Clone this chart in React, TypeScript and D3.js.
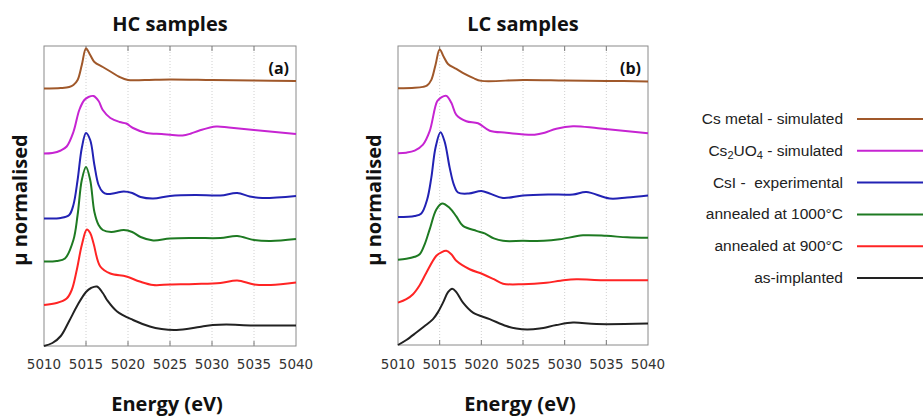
import React from "react";
import * as d3 from "d3";

// ---------- data (energy eV, stacked normalised μ) ----------
const X_TICKS = [5010, 5015, 5020, 5025, 5030, 5035, 5040];
const SERIES_NAMES = ["Cs metal - simulated", "Cs2UO4 - simulated", "CsI -  experimental", "annealed at 1000°C", "annealed at 900°C", "as-implanted"];
const SERIES_COLORS = ["#a0582a", "#c624d2", "#2222b4", "#1e7a22", "#ff2424", "#222222"];

const hcCsMetal: [number, number][] = [[5010,5.15],[5012,5.16],[5013,5.18],[5013.5,5.22],[5014,5.32],[5014.5,5.62],[5015,5.95],[5015.5,5.82],[5016,5.68],[5017,5.58],[5018,5.48],[5019,5.38],[5020,5.32],[5022,5.32],[5025,5.33],[5030,5.32],[5035,5.31],[5040,5.30]];
const hcCs2UO4: [number, number][] = [[5010,3.85],[5011,3.86],[5012,3.91],[5012.7,3.99],[5013.5,4.28],[5014.2,4.72],[5014.8,4.92],[5015.3,4.98],[5015.9,5.00],[5016.5,4.90],[5017,4.72],[5017.9,4.56],[5019,4.48],[5019.8,4.45],[5020.6,4.36],[5022.2,4.26],[5024,4.24],[5025.3,4.22],[5026.5,4.21],[5027.5,4.25],[5028.5,4.31],[5030.5,4.39],[5032,4.37],[5035,4.32],[5040,4.24]];
const hcCsI: [number, number][] = [[5010,2.55],[5012,2.56],[5013,2.62],[5013.5,2.82],[5014,3.32],[5014.5,3.96],[5015,4.26],[5015.5,4.12],[5016,3.62],[5016.5,3.22],[5017,3.08],[5017.5,3.04],[5018.5,3.06],[5019.5,3.09],[5020.5,3.06],[5021.5,2.98],[5023,2.95],[5025,3.00],[5028,3.02],[5031,3.01],[5033,3.06],[5034.5,2.99],[5036,2.96],[5040,3.00]];
const hcAnn1000: [number, number][] = [[5010,1.69],[5011.5,1.70],[5012.5,1.75],[5013.5,2.12],[5014,2.62],[5014.5,3.32],[5015,3.58],[5015.5,3.32],[5016,2.68],[5016.5,2.42],[5017,2.32],[5018,2.28],[5019.5,2.32],[5020.5,2.28],[5021.5,2.18],[5023,2.11],[5025,2.15],[5028,2.16],[5031,2.16],[5033,2.20],[5035,2.12],[5037,2.10],[5040,2.14]];
const hcAnn900: [number, number][] = [[5010,0.82],[5011.5,0.86],[5012.7,0.95],[5013.3,1.12],[5013.9,1.52],[5014.5,2.02],[5015.1,2.33],[5015.5,2.26],[5015.9,2.05],[5016.7,1.59],[5017.9,1.45],[5019.8,1.39],[5021.4,1.29],[5023,1.22],[5025,1.23],[5028,1.24],[5031,1.26],[5033,1.31],[5035,1.23],[5037,1.22],[5040,1.27]];
const hcImplanted: [number, number][] = [[5010,0.00],[5011,0.06],[5012,0.20],[5013,0.50],[5014,0.82],[5015,1.08],[5015.6,1.16],[5016.3,1.19],[5017,1.06],[5017.5,0.92],[5018.7,0.69],[5020.6,0.52],[5022.6,0.39],[5024,0.34],[5025.5,0.32],[5027,0.34],[5028.5,0.38],[5030.1,0.42],[5031.7,0.43],[5034.9,0.41],[5040,0.41]];

const lcCsMetal: [number, number][] = [[5010,5.15],[5012,5.16],[5013,5.18],[5013.5,5.21],[5014,5.32],[5014.5,5.62],[5015,5.93],[5015.5,5.78],[5016,5.64],[5017,5.54],[5018,5.44],[5019,5.36],[5020,5.30],[5025,5.32],[5030,5.31],[5035,5.30],[5040,5.29]];
const lcCs2UO4: [number, number][] = [[5010,3.85],[5011,3.86],[5012,3.90],[5013,4.02],[5013.8,4.29],[5014.7,4.89],[5015.2,4.97],[5015.8,5.00],[5016.4,4.86],[5017,4.62],[5018.2,4.49],[5019.6,4.45],[5021,4.30],[5023,4.26],[5024.8,4.23],[5026.4,4.22],[5027.6,4.26],[5029,4.34],[5031,4.39],[5034,4.35],[5040,4.25]];
const lcCsI: [number, number][] = [[5010,2.57],[5012,2.59],[5012.8,2.64],[5013.5,2.92],[5014,3.36],[5014.5,3.96],[5015.1,4.27],[5015.6,4.08],[5016.2,3.56],[5016.7,3.22],[5017.2,3.06],[5018.5,3.04],[5020,3.09],[5021,3.04],[5022.6,2.95],[5025,3.00],[5028,3.02],[5031,3.02],[5032.6,3.07],[5035.4,2.94],[5037.5,2.96],[5040,3.00]];
const lcAnn1000: [number, number][] = [[5010,1.71],[5011,1.73],[5012,1.77],[5012.6,1.82],[5013.2,2.02],[5013.8,2.32],[5014.6,2.72],[5015.3,2.84],[5016.2,2.75],[5017,2.58],[5017.8,2.39],[5019.4,2.29],[5020.4,2.24],[5021.5,2.14],[5022.6,2.09],[5025,2.09],[5027.5,2.09],[5029.4,2.12],[5032.2,2.20],[5035,2.19],[5037.5,2.16],[5040,2.15]];
const lcAnn900: [number, number][] = [[5010,0.85],[5011,0.92],[5011.8,1.02],[5012.6,1.20],[5013.4,1.45],[5014.6,1.79],[5015.2,1.86],[5015.8,1.89],[5016.4,1.82],[5017,1.69],[5018.6,1.52],[5020.2,1.42],[5021.5,1.32],[5022.6,1.23],[5025,1.22],[5027.8,1.25],[5029.5,1.29],[5031.4,1.32],[5034.6,1.30],[5040,1.30]];
const lcImplanted: [number, number][] = [[5010,0.00],[5011,0.10],[5012.2,0.25],[5013.2,0.38],[5014.2,0.52],[5014.8,0.66],[5015.4,0.85],[5016,1.06],[5016.5,1.13],[5017,1.06],[5017.8,0.85],[5019,0.65],[5021,0.52],[5023,0.38],[5024.2,0.33],[5025.5,0.31],[5027,0.33],[5029,0.40],[5031,0.45],[5033.8,0.42],[5040,0.43]];

const HC_SERIES = [hcCsMetal, hcCs2UO4, hcCsI, hcAnn1000, hcAnn900, hcImplanted];
const LC_SERIES = [lcCsMetal, lcCs2UO4, lcCsI, lcAnn1000, lcAnn900, lcImplanted];

const TITLE_FONT = "'Open Sans', Lato, sans-serif";
const TICK_FONT = "'DejaVu Sans', Verdana, sans-serif";
const LEGEND_FONT = "'Liberation Sans', Arial, sans-serif";

type PanelProps = { left: number; right: number; top: number; bottom: number; title: string; tag: string; series: [number, number][][] };

function Panel({ left, right, top, bottom, title, tag, series }: PanelProps) {
  const x = d3.scaleLinear().domain([5010, 5040]).range([left, right]);
  const y = d3.scaleLinear().domain([0, 6]).range([bottom, top]);
  const line = d3.line<[number, number]>().x(d => x(d[0])).y(d => y(d[1])).curve(d3.curveCatmullRom.alpha(0.5));
  const cx = (left + right) / 2;
  return (
    <g>
      <text x={cx} y={31} textAnchor="middle" fontFamily={TITLE_FONT} fontWeight="bold" fontSize={20} fill="#111">{title}</text>
      {X_TICKS.slice(1, -1).map(t => (
        <line key={"g" + t} x1={x(t)} x2={x(t)} y1={top} y2={bottom} stroke="#d0d0d0" strokeWidth={1} strokeDasharray="1,2" />
      ))}
      {X_TICKS.slice(1, -1).map(t => (
        <g key={"t" + t}>
          <line x1={x(t)} x2={x(t)} y1={top} y2={top + 5} stroke="#777" strokeWidth={1} />
          <line x1={x(t)} x2={x(t)} y1={bottom} y2={bottom - 5} stroke="#777" strokeWidth={1} />
        </g>
      ))}
      <rect x={left} y={top} width={right - left} height={bottom - top} fill="none" stroke="#8a8a8a" strokeWidth={1} />
      {X_TICKS.map(t => (
        <text key={"l" + t} x={x(t)} y={369} textAnchor="middle" fontFamily={TICK_FONT} fontSize={13.5} fill="#333">{t}</text>
      ))}
      {series.map((s, i) => (
        <path key={i} d={line(s) || ""} fill="none" stroke={SERIES_COLORS[i]} strokeWidth={2} />
      ))}
      <text x={right - 7} y={74} textAnchor="end" fontFamily={TITLE_FONT} fontWeight="bold" fontSize={16} fill="#111">{tag}</text>
      <text x={cx - 3} y={411} textAnchor="middle" fontFamily={TITLE_FONT} fontWeight="bold" fontSize={20} fill="#111">Energy (eV)</text>
      <text transform={`translate(${left - 17},200) rotate(-90)`} textAnchor="middle" fontFamily={TITLE_FONT} fontWeight="bold" fontSize={20} fill="#111">μ normalised</text>
    </g>
  );
}

function LegendLabel({ i }: { i: number }) {
  if (i === 1) {
    return (
      <>
        <tspan>Cs</tspan>
        <tspan fontSize={11} dy={3}>2</tspan>
        <tspan dy={-3}>UO</tspan>
        <tspan fontSize={11} dy={3}>4</tspan>
        <tspan dy={-3}> - simulated</tspan>
      </>
    );
  }
  return <>{SERIES_NAMES[i]}</>;
}

export default function App() {
  const legendY = d3.scaleLinear().domain([0, 5]).range([119, 278]);
  return (
    <svg width={923} height={418} style={{ display: "block", position: "absolute", left: 0, top: 0, background: "#fff" }}>
      <Panel left={44} right={296} top={46} bottom={346} title="HC samples" tag="(a)" series={HC_SERIES} />
      <Panel left={398} right={648} top={46} bottom={345} title="LC samples" tag="(b)" series={LC_SERIES} />
      {SERIES_NAMES.map((n, i) => (
        <g key={n}>
          <text x={843} y={legendY(i) + 5} textAnchor="end" fontFamily={LEGEND_FONT} fontSize={15.5} fill="#222" style={{ whiteSpace: "pre" }}>
            <LegendLabel i={i} />
          </text>
          <line x1={857} x2={925} y1={legendY(i)} y2={legendY(i)} stroke={SERIES_COLORS[i]} strokeWidth={2} />
        </g>
      ))}
    </svg>
  );
}
